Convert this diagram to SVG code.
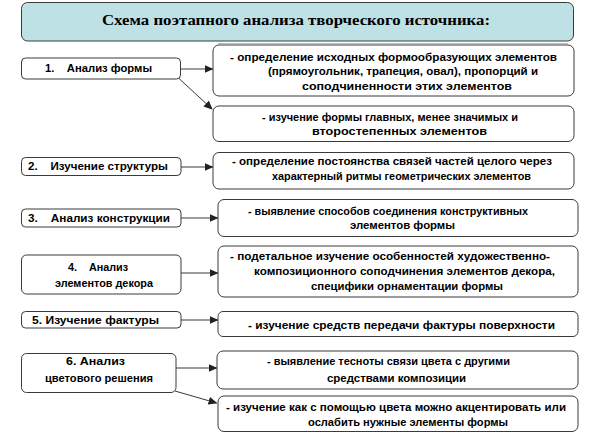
<svg xmlns="http://www.w3.org/2000/svg" width="595" height="446" viewBox="0 0 595 446">
<style>
.box{fill:#fff;stroke:#3a3a3a;stroke-width:1}
.title{fill:#bde1e4;stroke:#3a3a3a;stroke-width:1}
.t{font-family:"Liberation Sans",Arial,sans-serif;font-size:10px;font-weight:bold;fill:#000}
.tt{font-family:"Liberation Serif","Times New Roman",serif;font-size:14px;font-weight:bold;fill:#000}
.c{stroke:#3a3a3a;stroke-width:1;fill:none;marker-end:url(#ah)}
</style>
<defs>
<marker id="ah" markerWidth="9" markerHeight="8" refX="8" refY="4" orient="auto" markerUnits="userSpaceOnUse">
<path d="M0,0 L9,4 L0,8 Z" fill="#222"/>
</marker>
</defs>
<g id="title">
<line x1="218" y1="43.5" x2="568" y2="43.5" stroke="#bbb" stroke-width="1"/>
<rect class="title" x="21.5" y="2.5" width="552" height="38.5" rx="6"/>
<text class="tt" x="296" y="25" text-anchor="middle" textLength="388" lengthAdjust="spacingAndGlyphs">Схема поэтапного анализа творческого источника:</text>
</g>
<g id="n1">
<rect class="box" x="21.5" y="58" width="159" height="21" rx="4"/>
<text class="t" x="45" y="72" textLength="107" lengthAdjust="spacingAndGlyphs" xml:space="preserve">1.    Анализ формы</text>
</g>
<g id="n2">
<rect class="box" x="21.5" y="157.5" width="159.5" height="18" rx="4"/>
<text class="t" x="28" y="170" textLength="140" lengthAdjust="spacingAndGlyphs" xml:space="preserve">2.    Изучение структуры</text>
</g>
<g id="n3">
<rect class="box" x="21.5" y="209" width="159.5" height="18" rx="4"/>
<text class="t" x="28" y="221.5" textLength="142" lengthAdjust="spacingAndGlyphs" xml:space="preserve">3.    Анализ конструкции</text>
</g>
<g id="n4">
<rect class="box" x="21.5" y="255" width="159.5" height="39" rx="5"/>
<text class="t" x="68" y="270.5" textLength="60" lengthAdjust="spacingAndGlyphs" xml:space="preserve">4.    Анализ</text>
<text class="t" x="55" y="286.5" textLength="98" lengthAdjust="spacingAndGlyphs">элементов декора</text>
</g>
<g id="n5">
<rect class="box" x="21.5" y="311.5" width="159.5" height="16.5" rx="4"/>
<text class="t" x="32" y="323.5" textLength="127" lengthAdjust="spacingAndGlyphs">5. Изучение фактуры</text>
</g>
<g id="n6">
<rect class="box" x="21.5" y="353.5" width="154.5" height="39" rx="5"/>
<text class="t" x="66" y="364.5" textLength="59" lengthAdjust="spacingAndGlyphs">6. Анализ</text>
<text class="t" x="45" y="381.5" textLength="108" lengthAdjust="spacingAndGlyphs">цветового решения</text>
</g>
<g id="r1a">
<rect class="box" x="213" y="45" width="361" height="51" rx="6"/>
<text class="t" x="230" y="60.5" textLength="327" lengthAdjust="spacingAndGlyphs">- определение исходных формообразующих элементов</text>
<text class="t" x="268" y="75" textLength="270" lengthAdjust="spacingAndGlyphs">(прямоугольник, трапеция, овал), пропорций и</text>
<text class="t" x="302" y="89.5" textLength="210" lengthAdjust="spacingAndGlyphs">соподчиненности этих элементов</text>
</g>
<g id="r1b">
<rect class="box" x="213" y="106" width="361" height="35.5" rx="6"/>
<text class="t" x="262" y="121" textLength="256" lengthAdjust="spacingAndGlyphs">- изучение формы главных, менее значимых и</text>
<text class="t" x="312" y="134.5" textLength="175" lengthAdjust="spacingAndGlyphs">второстепенных элементов</text>
</g>
<g id="r2">
<rect class="box" x="213" y="152.5" width="361" height="36.5" rx="6"/>
<text class="t" x="232" y="164.5" textLength="320" lengthAdjust="spacingAndGlyphs">- определение постоянства связей частей целого через</text>
<text class="t" x="272" y="179.5" textLength="259" lengthAdjust="spacingAndGlyphs">характерный ритмы геометрических элементов</text>
</g>
<g id="r3">
<rect class="box" x="218" y="199.5" width="360" height="37" rx="6"/>
<text class="t" x="248" y="214.5" textLength="280" lengthAdjust="spacingAndGlyphs">- выявление способов соединения конструктивных</text>
<text class="t" x="350" y="228.5" textLength="105" lengthAdjust="spacingAndGlyphs">элементов формы</text>
</g>
<g id="r4">
<rect class="box" x="218" y="246" width="360" height="51" rx="6"/>
<text class="t" x="230" y="259.5" textLength="320" lengthAdjust="spacingAndGlyphs">- подетальное изучение особенностей художественно-</text>
<text class="t" x="254" y="274.5" textLength="301" lengthAdjust="spacingAndGlyphs">композиционного соподчинения элементов декора,</text>
<text class="t" x="311" y="289.5" textLength="192" lengthAdjust="spacingAndGlyphs">специфики орнаментации формы</text>
</g>
<g id="r5">
<rect class="box" x="218" y="311.5" width="360" height="25" rx="5"/>
<text class="t" x="248" y="328.5" textLength="307" lengthAdjust="spacingAndGlyphs">- изучение средств передачи фактуры поверхности</text>
</g>
<g id="r6a">
<rect class="box" x="217" y="351" width="361" height="38" rx="6"/>
<text class="t" x="267" y="364.5" textLength="243" lengthAdjust="spacingAndGlyphs">- выявление тесноты связи цвета с другими</text>
<text class="t" x="327" y="381.5" textLength="139" lengthAdjust="spacingAndGlyphs">средствами композиции</text>
</g>
<g id="r6b">
<rect class="box" x="218" y="396" width="360" height="35.5" rx="6"/>
<text class="t" x="226" y="410.5" textLength="340" lengthAdjust="spacingAndGlyphs">- изучение как с помощью цвета можно акцентировать или</text>
<text class="t" x="308" y="425.5" textLength="200" lengthAdjust="spacingAndGlyphs">ослабить нужные элементы формы</text>
</g>
<g id="connectors">
<line class="c" x1="180.5" y1="69" x2="212.5" y2="69"/>
<line class="c" x1="179" y1="78.5" x2="212" y2="109"/>
<line class="c" x1="181" y1="167" x2="212.5" y2="167"/>
<line class="c" x1="181" y1="218" x2="217.5" y2="218"/>
<line class="c" x1="181" y1="273" x2="217.5" y2="273"/>
<line class="c" x1="181" y1="320" x2="217.5" y2="320"/>
<line class="c" x1="176" y1="368" x2="216.5" y2="368"/>
<line class="c" x1="175" y1="391" x2="216.5" y2="403"/>
</g>
</svg>
